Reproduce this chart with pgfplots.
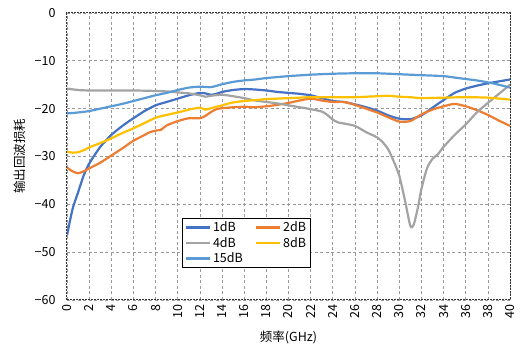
\documentclass[border=0pt]{standalone}
\usepackage{fontspec}
\setmainfont{Noto Sans CJK SC}
\usepackage{pgfplots}
\pgfplotsset{compat=1.18}
\definecolor{c1}{rgb}{0.267,0.447,0.769}
\definecolor{c2}{rgb}{0.929,0.490,0.192}
\definecolor{c4}{rgb}{0.64,0.64,0.645}
\definecolor{c8}{rgb}{1.0,0.753,0.0}
\definecolor{c15}{rgb}{0.357,0.608,0.835}
\begin{document}
\begin{tikzpicture}
\begin{axis}[
  scale only axis, width=443pt, height=287pt,
  xmin=0, xmax=40, ymin=-60, ymax=0,
  xtick={0,2,...,40}, ytick={-60,-50,...,0},
  yticklabels={−60,−50,−40,−30,−20,−10,0},
  /pgf/number format/assume math mode=true,
  tick label style={font=\fontsize{12.5}{14}\selectfont},
  xticklabel style={rotate=90, anchor=east, xshift=-1pt},
  yticklabel style={xshift=-8pt},
  tick style={draw=none},
  grid=major, major grid style={dash pattern=on 3pt off 2.5pt, black!40, line width=0.7pt},
  axis line style={dash pattern=on 2pt off 1pt, black!80, line width=1pt},
  xlabel={频率(GHz)}, ylabel={输出回波损耗},
  label style={font=\fontsize{12.5}{14}\selectfont},
  xlabel style={at={(axis description cs:0.5,-0.129)}, anchor=center},
  ylabel style={at={(axis description cs:-0.106,0.5)}, anchor=center},
  legend columns=2,
  legend style={at={(0.26,0.286)}, anchor=north west, draw=black, line width=0.9pt,
    font=\fontsize{12.5}{14}\selectfont, inner xsep=2pt, inner ysep=1.5pt, row sep=0pt,
    /tikz/every even column/.append style={column sep=10pt}},
  legend cell align=left,
  legend image code/.code={\draw[#1, line width=2.2pt] (0cm,0cm) -- (0.85cm,0cm);},
]
\addplot[draw=c1, line width=2.2pt, smooth, tension=0.4] coordinates {(0,-46.5)(0.5,-41)(1,-37.5)(1.5,-34)(2,-31.5)(3,-28)(4,-25.5)(5,-23.6)(6,-22)(7,-20.5)(8,-19.3)(9,-18.6)(10,-17.9)(11,-17.2)(12,-16.7)(12.5,-16.8)(13,-17.1)(13.5,-16.9)(14,-16.5)(15,-16.1)(16,-15.9)(17,-16)(18,-16.2)(19,-16.5)(20,-16.7)(21,-16.9)(22,-17.2)(23,-17.8)(24,-18.4)(25,-18.6)(26,-19.1)(27,-19.7)(28,-20.4)(29,-21.4)(30,-22.1)(31,-22.2)(32,-21.4)(33,-19.8)(34,-18.2)(35,-16.7)(36,-15.8)(37,-15.2)(38,-14.7)(39,-14.3)(40,-13.9)};
\addlegendentry{1dB}
\addplot[draw=c2, line width=2.2pt, smooth, tension=0.4] coordinates {(0,-32.3)(0.5,-33.1)(1,-33.5)(1.5,-33.1)(2,-32.5)(3,-31.3)(4,-29.8)(5,-28.3)(6,-26.7)(7,-25.5)(7.5,-24.9)(8,-24.6)(8.5,-24.4)(9,-23.5)(10,-22.6)(11,-22)(12,-22)(12.5,-21.5)(13,-20.7)(13.5,-20.1)(14,-19.9)(15,-19.7)(16,-19.6)(17,-19.7)(18,-19.5)(19,-19.2)(20,-18.8)(21,-18.3)(22,-17.9)(23,-18.3)(24,-18.6)(25,-18.6)(26,-19.2)(27,-20)(28,-20.8)(29,-21.8)(30,-22.7)(31,-22.6)(32,-21.2)(33,-20.2)(34,-19.5)(35,-19)(36,-19.5)(37,-20.3)(38,-21.3)(39,-22.5)(40,-23.6)};
\addlegendentry{2dB}
\addplot[draw=c4, line width=2.2pt, smooth, tension=0.4] coordinates {(0,-15.8)(1,-16.1)(2,-16.2)(4,-16.2)(6,-16.2)(8,-16.3)(9,-16.4)(10,-16.6)(11,-16.8)(12,-17.2)(12.5,-17.5)(13,-17.3)(14,-17.1)(15,-17.4)(16,-17.8)(17,-18.3)(18,-18.6)(19,-18.9)(20,-19.3)(21,-19.7)(22,-20.1)(23,-20.6)(23.5,-21.3)(24,-22.3)(24.5,-22.9)(25,-23.1)(26,-23.6)(27,-24.9)(28,-26)(28.5,-27)(29,-28.5)(29.5,-31)(30,-34)(30.5,-39)(31,-44.5)(31.3,-44.3)(31.7,-40.5)(32,-36.8)(32.5,-32.5)(33,-30.5)(33.5,-29.5)(34,-28)(35,-25.5)(36,-23.3)(37,-20.8)(38,-18.8)(39,-16.9)(40,-15)};
\addlegendentry{4dB}
\addplot[draw=c8, line width=2.2pt, smooth, tension=0.4] coordinates {(0,-29)(0.5,-29.2)(1,-29.1)(1.5,-28.7)(2,-28.1)(3,-27.2)(4,-26.2)(5,-25.1)(6,-24.1)(7,-23)(8,-21.9)(9,-21.3)(10,-20.8)(11,-20.2)(12,-19.8)(12.5,-20.2)(13,-19.9)(14,-19.3)(15,-18.7)(16,-18.4)(17,-18.2)(18,-18)(19,-17.9)(20,-17.8)(21,-17.7)(22,-17.6)(24,-17.6)(26,-17.6)(28,-17.4)(29,-17.3)(30,-17.5)(31,-17.6)(32,-17.8)(34,-17.7)(36,-17.6)(38,-17.7)(40,-18.1)};
\addlegendentry{8dB}
\addplot[draw=c15, line width=2.2pt, smooth, tension=0.4] coordinates {(0,-21)(1,-20.8)(2,-20.5)(3,-20)(4,-19.5)(5,-19)(6,-18.4)(7,-17.8)(8,-17.2)(9,-16.7)(10,-16.1)(11,-15.6)(12,-15.4)(13,-15.5)(14,-14.9)(15,-14.4)(16,-14.1)(17,-13.9)(18,-13.6)(20,-13.2)(22,-12.9)(24,-12.7)(26,-12.6)(28,-12.6)(30,-12.8)(32,-13)(34,-13.2)(35,-13.5)(36,-13.8)(37,-14.1)(38,-14.5)(39,-15)(40,-15.6)};
\addlegendentry{15dB}
\end{axis}
\path (current axis.north east) ++(15pt,13pt);
\path (current axis.south west) ++(-67pt,-47pt);
\end{tikzpicture}
\end{document}
